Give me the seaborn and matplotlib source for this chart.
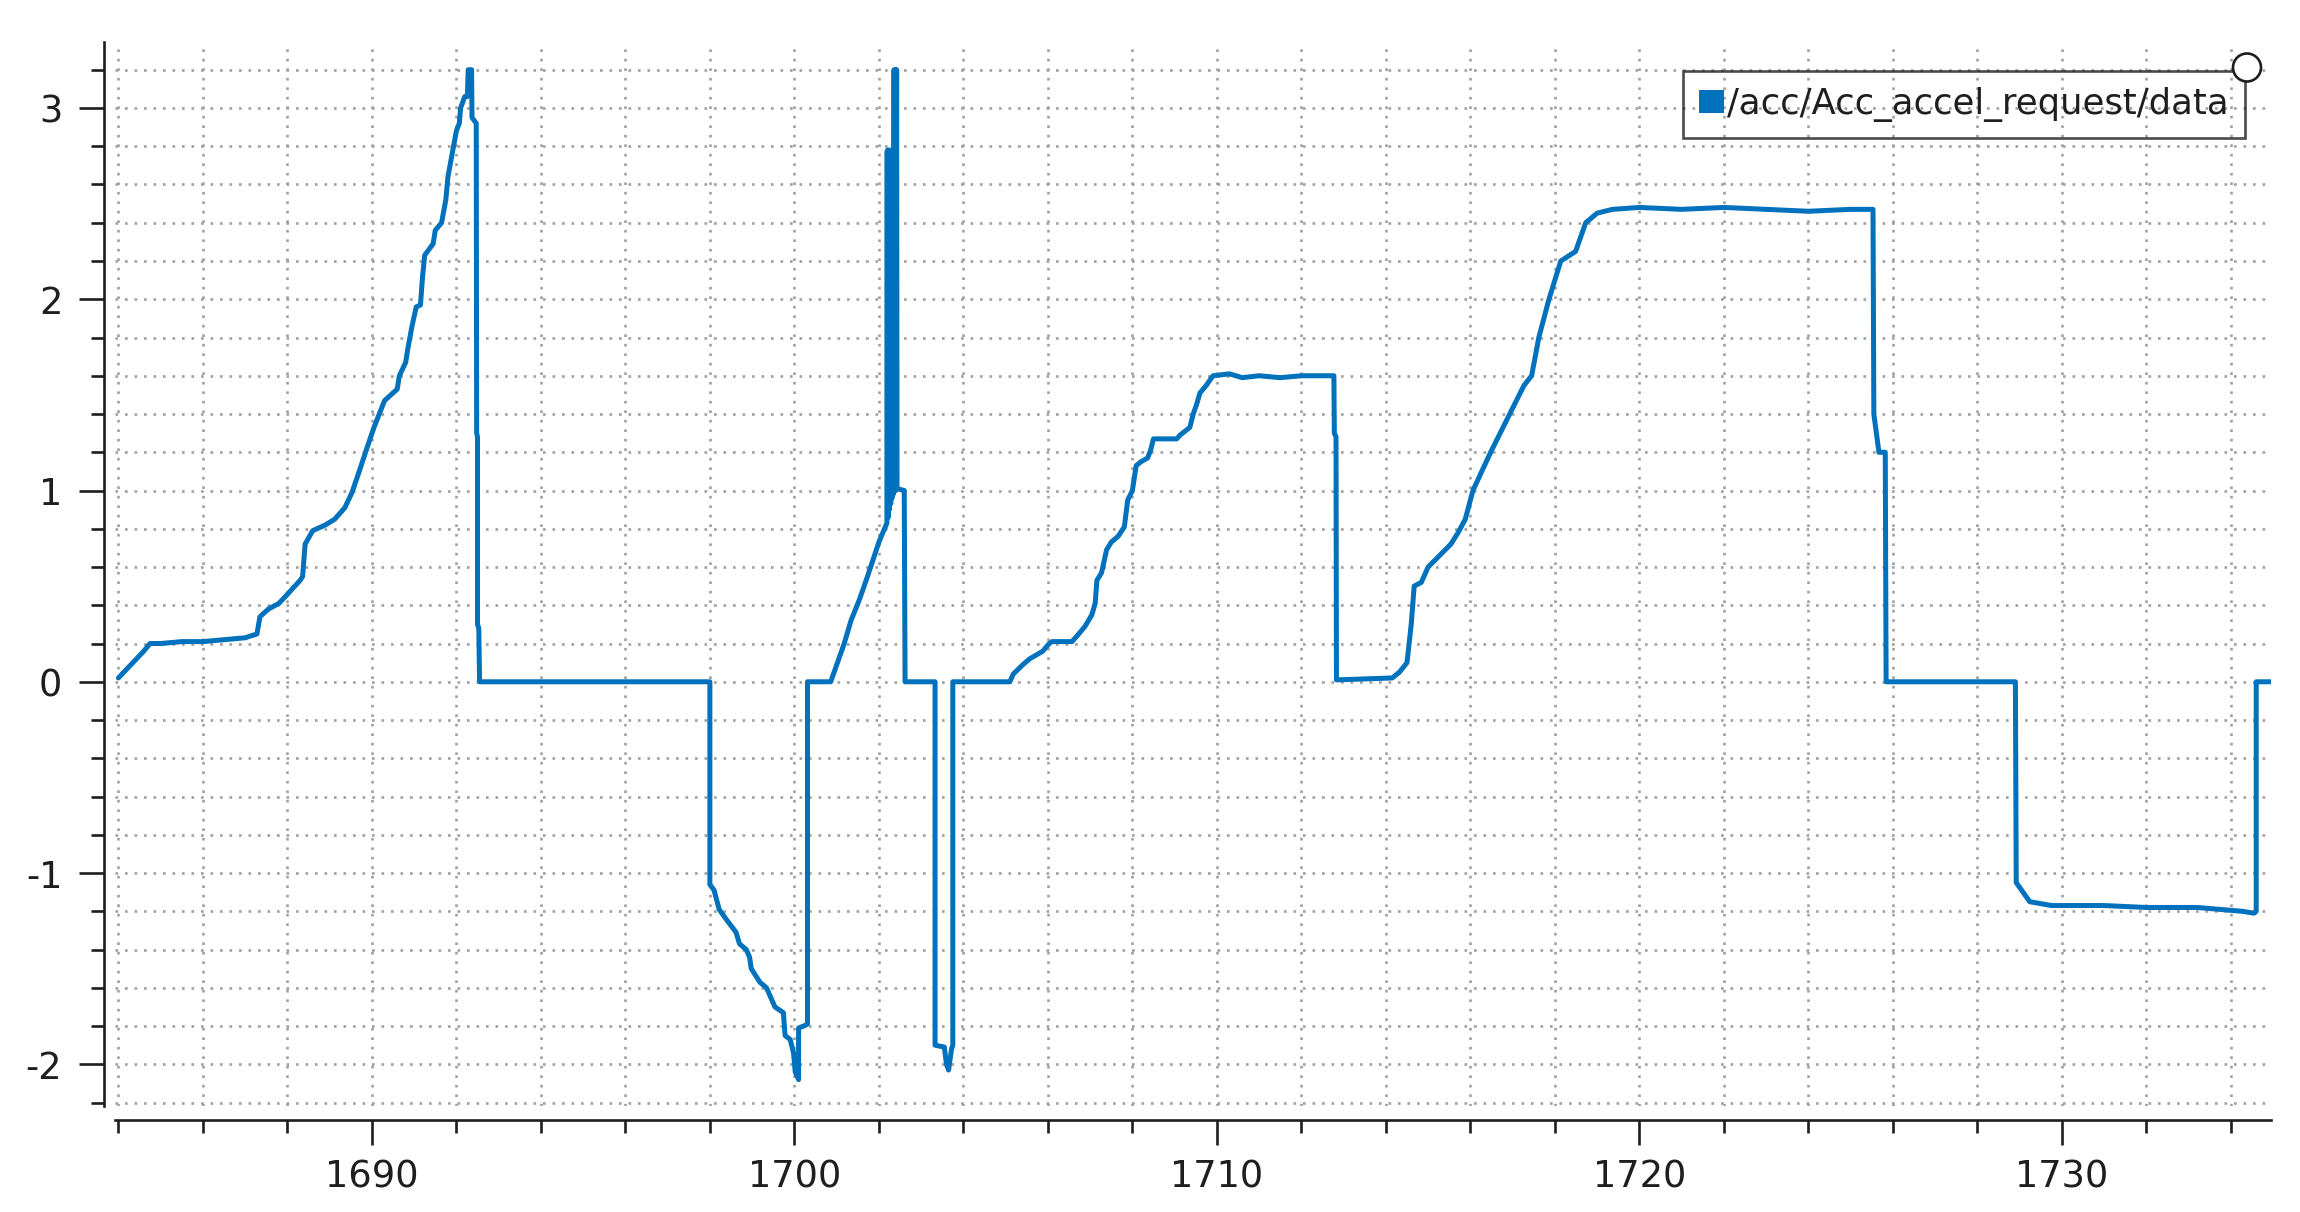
import matplotlib
matplotlib.use("Agg")
import numpy as np
import pandas as pd
import matplotlib.pyplot as plt
import seaborn as sns
from matplotlib.ticker import MultipleLocator, FormatStrFormatter
from matplotlib.patches import Patch, Ellipse

# ---------------- data ----------------
series_name = "/acc/Acc_accel_request/data"

time_s = [
    1684.00, 1684.30, 1684.60, 1684.75, 1685.00, 1685.50, 1686.00, 1686.50, 1687.00, 1687.28,
    1687.35, 1687.55, 1687.80, 1687.97, 1688.30, 1688.36, 1688.42, 1688.60, 1688.90, 1689.12,
    1689.36, 1689.53, 1689.70, 1689.88, 1690.05, 1690.30, 1690.60, 1690.65, 1690.80, 1690.85,
    1690.95, 1691.05, 1691.15, 1691.20, 1691.25, 1691.45, 1691.50, 1691.65, 1691.75, 1691.80,
    1691.90, 1692.00, 1692.07, 1692.10, 1692.20, 1692.26, 1692.28, 1692.36, 1692.37, 1692.47,
    1692.48, 1692.50, 1692.50, 1692.53, 1692.55,
    1698.00, 1698.00, 1698.10, 1698.22, 1698.38, 1698.62, 1698.70, 1698.86, 1698.94, 1698.98,
    1699.18, 1699.34, 1699.46, 1699.54, 1699.74, 1699.78, 1699.90, 1699.98, 1700.02, 1700.10,
    1700.10, 1700.22, 1700.31, 1700.31, 1700.86, 1701.02, 1701.18, 1701.34, 1701.54, 1701.73,
    1702.00, 1702.19, 1702.19, 1702.21, 1702.22, 1702.24, 1702.25, 1702.27, 1702.28, 1702.30,
    1702.31, 1702.33, 1702.34, 1702.36, 1702.37, 1702.39, 1702.40, 1702.42, 1702.43, 1702.60,
    1702.62, 1703.33, 1703.33, 1703.55, 1703.60, 1703.65, 1703.72, 1703.75, 1703.75, 1705.10,
    1705.18, 1705.41, 1705.57, 1705.88, 1706.03, 1706.10, 1706.57, 1706.73, 1706.88, 1707.04,
    1707.12, 1707.16, 1707.27, 1707.39, 1707.50, 1707.66, 1707.81, 1707.89, 1708.00, 1708.09,
    1708.20, 1708.36, 1708.43, 1708.50, 1709.05, 1709.13, 1709.36, 1709.44, 1709.52, 1709.60,
    1709.75, 1709.91, 1710.30, 1710.60, 1711.00, 1711.50, 1712.00, 1712.50, 1712.77, 1712.78,
    1712.82, 1712.83, 1712.85, 1714.15, 1714.32, 1714.50, 1714.60, 1714.67, 1714.84, 1715.00,
    1715.36, 1715.54, 1715.71, 1715.88, 1716.06, 1716.48, 1716.93, 1717.27, 1717.45, 1717.62,
    1717.86, 1718.14, 1718.49, 1718.73, 1719.00, 1719.36, 1720.00, 1721.00, 1722.00, 1723.00,
    1724.00, 1725.00, 1725.53, 1725.55, 1725.67, 1725.82, 1725.84, 1728.90, 1728.92, 1729.24,
    1729.76, 1731.00, 1732.00, 1733.20, 1734.27, 1734.55, 1734.60, 1734.60, 1734.94,
]

accel_request = [
    0.02, 0.09, 0.16, 0.20, 0.20, 0.21, 0.21, 0.22, 0.23, 0.25,
    0.34, 0.38, 0.41, 0.45, 0.53, 0.55, 0.72, 0.79, 0.82, 0.85,
    0.91, 0.99, 1.10, 1.22, 1.33, 1.47, 1.53, 1.60, 1.67, 1.74,
    1.86, 1.96, 1.97, 2.12, 2.23, 2.29, 2.36, 2.40, 2.52, 2.64,
    2.76, 2.88, 2.92, 3.00, 3.06, 3.06, 3.20, 3.20, 2.95, 2.92,
    1.30, 1.28, 0.30, 0.28, 0.00,
    0.00, -1.06, -1.09, -1.19, -1.24, -1.31, -1.37, -1.40, -1.44, -1.50,
    -1.57, -1.60, -1.66, -1.70, -1.73, -1.85, -1.87, -1.94, -2.04, -2.08,
    -1.81, -1.80, -1.79, 0.00, 0.00, 0.10, 0.20, 0.32, 0.43, 0.55,
    0.73, 0.83, 2.77, 2.78, 0.86, 2.78, 0.90, 2.77, 0.93, 2.78,
    0.96, 2.77, 0.98, 3.20, 1.00, 3.20, 1.00, 3.20, 1.01, 1.00,
    0.00, 0.00, -1.90, -1.91, -2.00, -2.03, -1.92, -1.90, 0.00, 0.00,
    0.04, 0.09, 0.12, 0.16, 0.20, 0.21, 0.21, 0.25, 0.29, 0.35,
    0.41, 0.53, 0.57, 0.69, 0.73, 0.76, 0.81, 0.95, 1.00, 1.13,
    1.15, 1.17, 1.21, 1.27, 1.27, 1.29, 1.33, 1.40, 1.45, 1.51,
    1.55, 1.60, 1.61, 1.59, 1.60, 1.59, 1.60, 1.60, 1.60, 1.30,
    1.28, 0.01, 0.01, 0.02, 0.05, 0.10, 0.30, 0.50, 0.52, 0.60,
    0.68, 0.72, 0.78, 0.85, 1.00, 1.20, 1.40, 1.55, 1.60, 1.80,
    2.00, 2.20, 2.25, 2.40, 2.45, 2.47, 2.48, 2.47, 2.48, 2.47,
    2.46, 2.47, 2.47, 1.40, 1.20, 1.20, 0.00, 0.00, -1.05, -1.15,
    -1.17, -1.17, -1.18, -1.18, -1.20, -1.21, -1.20, 0.00, 0.00,
]

x_major_ticks = [1690, 1700, 1710, 1720, 1730]
y_major_ticks = [-2, -1, 0, 1, 2, 3]
x_limits = (1683.92, 1734.95)
y_limits = (-2.218, 3.345)

# ---------------- style ----------------
LINE = "#0071BC"
INK = "#1e1e1e"
GRID = "#a0a0a0"

sns.set_style("ticks")
plt.rcParams["font.family"] = ["DejaVu Sans"]
plt.rcParams["axes.unicode_minus"] = False

W, H = 2300, 1212
fig = plt.figure(figsize=(W / 100, H / 100), dpi=100)
fig.patch.set_facecolor("white")
ax = fig.add_axes([115 / W, 1 - 1106 / H, (2271 - 115) / W, (1106 - 42) / H])

df = pd.DataFrame({"t": time_s, "v": accel_request})
sns.lineplot(data=df, x="t", y="v", estimator=None, sort=False,
             color=LINE, linewidth=3.6, ax=ax, zorder=3)

ax.set_xlim(*x_limits)
ax.set_ylim(*y_limits)
ax.set_xlabel("")
ax.set_ylabel("")

ax.xaxis.set_major_locator(MultipleLocator(10))
ax.xaxis.set_minor_locator(MultipleLocator(2))
ax.yaxis.set_major_locator(MultipleLocator(1))
ax.yaxis.set_minor_locator(MultipleLocator(0.2))
ax.set_xticks(x_major_ticks)
ax.set_yticks(y_major_ticks)
ax.xaxis.set_major_formatter(FormatStrFormatter("%d"))
ax.yaxis.set_major_formatter(FormatStrFormatter("%d"))

ax.grid(which="both", color=GRID, linestyle=(0, (1, 2.6)), linewidth=1.9)
ax.set_axisbelow(True)

for s in ("top", "right"):
    ax.spines[s].set_visible(False)
ax.spines["left"].set_position(("outward", 8))
ax.spines["bottom"].set_position(("outward", 10))
for s in ("left", "bottom"):
    ax.spines[s].set_linewidth(1.9)
    ax.spines[s].set_color(INK)

ax.tick_params(axis="both", which="both", direction="out", color=INK,
               width=1.9, left=True, bottom=True)
ax.tick_params(axis="both", which="major", length=18, labelsize=26.5,
               labelcolor=INK)
ax.tick_params(axis="both", which="minor", length=9.4)
ax.tick_params(axis="x", which="major", pad=10)
ax.tick_params(axis="y", which="major", pad=12)

leg = ax.legend(handles=[Patch(facecolor=LINE, edgecolor="none", label=series_name)],
                loc="upper right", bbox_to_anchor=(2245 / W, 1 - 71 / H),
                bbox_transform=fig.transFigure, borderaxespad=0,
                fontsize=25.5, frameon=True, fancybox=False,
                facecolor="none", edgecolor=INK,
                handlelength=0.7, handleheight=0.65, handletextpad=0.1,
                borderpad=0.45)
leg.get_frame().set_linewidth(1.9)
for t in leg.get_texts():
    t.set_color(INK)

fig.add_artist(Ellipse((2247 / W, 1 - 67.5 / H), width=28 / W, height=28 / H,
                       transform=fig.transFigure, facecolor="white",
                       edgecolor=INK, linewidth=1.9, zorder=10))

fig.savefig("out.png", dpi=100, facecolor="white")
